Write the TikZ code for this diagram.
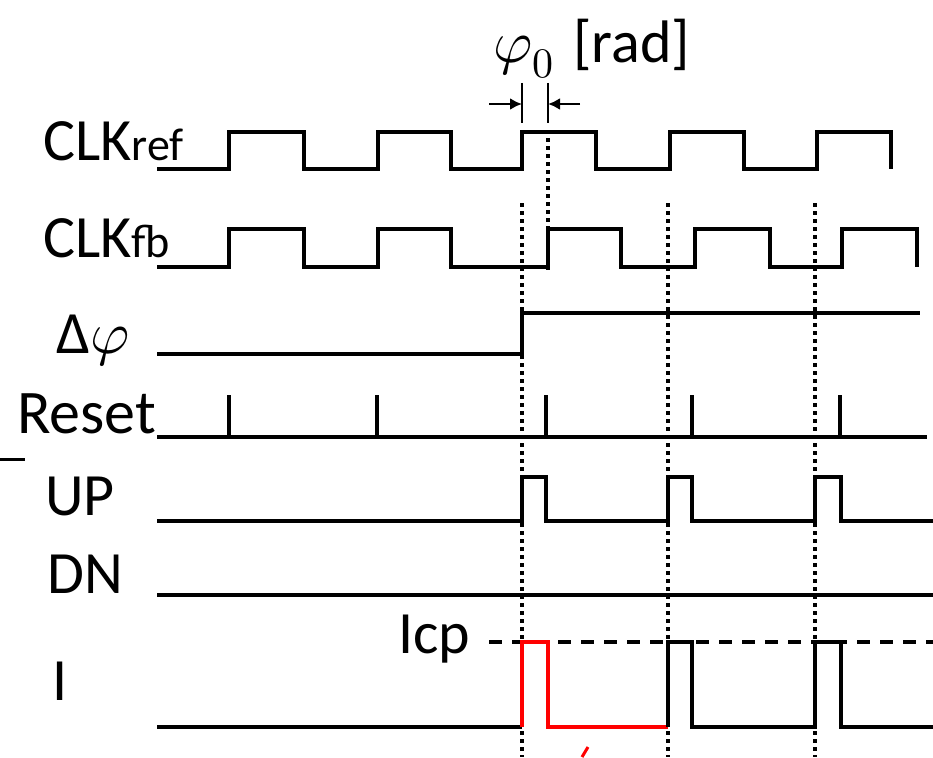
\documentclass[tikz,border=0pt]{standalone}
\usepackage{fontspec}
\usepackage{unicode-math}
\setmainfont{Carlito}
\setmathfont{Latin Modern Math}
\usetikzlibrary{arrows.meta}

\begin{document}
\begin{tikzpicture}[
    x=1pt,
    y=-1pt,
    every node/.style={font=\fontsize{60}{64}\selectfont, inner sep=0pt, anchor=base west},
    wave/.style={draw=black, line width=3.5pt, line join=miter},
    redwave/.style={wave, draw=red},
    guide/.style={draw=black, line width=3.5pt, dash pattern=on 3.5pt off 4.5pt},
    level/.style={draw=black, line width=3.5pt, dash pattern=on 13pt off 10pt},
    dim/.style={-{Latex[length=12pt,width=12pt]}, draw=black, line width=2.5pt},
    sub/.style={font=\fontsize{46}{50}\selectfont}
  ]
    \useasboundingbox (0,0) rectangle (933,757);

    % labels
    \node (clkref) at (43,160) {CLK};
    \node[sub] (clkrefsub) at (clkref.base east) {ref};
    \node (clkfb) at (43,257) {CLK};
    \node[sub] (clkfbsub) at (clkfb.base east) {fb};
    \node (dphi) at (56,353) {Δ$\varphi$};
    \node[font=\fontsize{62}{66}\selectfont] (reset) at (17,433) {Reset};
    \node (up) at (45,515) {UP};
    \node (dn) at (47,593) {DN};
    \node (cur) at (52,700) {I};
    \node (icp) at (398,653) {Icp};
    \node (phase) at (493,63) {$\varphi_0$\hspace{6pt} [rad]};

    \draw[line width=3pt] (0,459) -- (25,459);

    % dotted guides
    \foreach \x in {522,668,815}
      \draw[guide] (\x,203) -- (\x,757);
    \draw[guide] (548,130) -- (548,272);

    % phase offset marker
    \coordinate (ml) at (522,104);
    \coordinate (mr) at (548,104);
    \coordinate (al) at (489,104);
    \coordinate (ar) at (580,104);
    \draw[line width=2.5pt] (522,83) -- (522,123);
    \draw[line width=2.5pt] (548,83) -- (548,123);
    \draw[dim] (al) -- (ml);
    \draw[dim] (ar) -- (mr);

    % Icp level
    \draw[level] (489,642) -- (933,642);

    % CLKref
    \draw[wave] (157,169) -| (229,132) -| (304,169) -| (378,132) -| (451,169)
      -| (522,132) -| (596,169) -| (670,132) -| (744,169) -| (817,132) -| (891,169);
    % CLKfb
    \draw[wave] (157,267) -| (229,229) -| (304,267) -| (378,229) -| (451,267)
      -| (548,229) -| (621,267) -| (695,229) -| (770,267) -| (842,229) -| (917,267);
    % phase error
    \draw[wave] (157,354) -| (522,313) -- (920,313);
    % reset
    \draw[wave] (157,437) -- (927,437);
    \foreach \x in {229,377,546,692,840}
      \draw[wave] (\x,437) -- (\x,395);
    % UP
    \draw[wave] (157,521) -| (522,477) -| (546,521) -| (668,477) -| (692,521)
      -| (815,477) -| (841,521) -- (933,521);
    % DN
    \draw[wave] (157,595) -- (933,595);
    % I
    \draw[wave] (157,727) -- (522,727);
    \draw[redwave] (522,727) |- (548,642) |- (668,727);
    \draw[wave] (668,727) |- (692,642) |- (815,727) |- (841,642) |- (933,727);
    \draw[red, line width=3pt] (582,757) -- (588,747);
  \end{tikzpicture}
\end{document}
